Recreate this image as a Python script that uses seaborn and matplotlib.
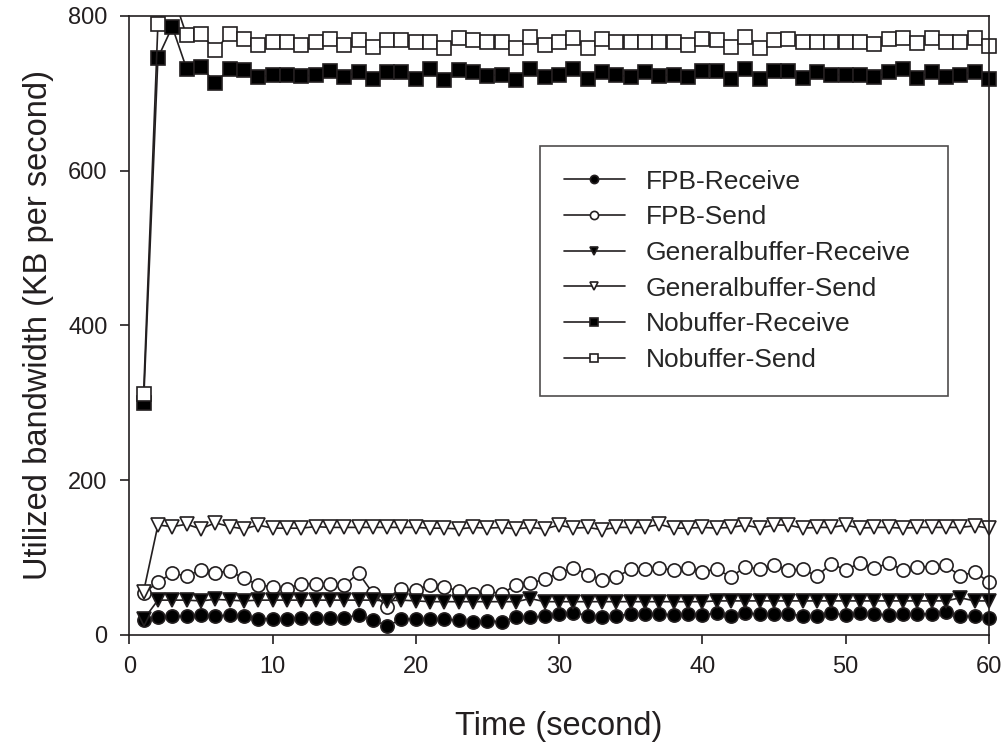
import numpy as np
import pandas as pd
import matplotlib
matplotlib.use("Agg")
import matplotlib.pyplot as plt
from matplotlib.transforms import Bbox, TransformedBbox
import seaborn as sns

sns.set_style("white")
plt.rcParams["font.family"] = ["Liberation Sans", "DejaVu Sans"]

time_s = list(range(1, 61))

fpb_receive = [19, 23, 24, 24, 26, 24, 26, 24, 21, 21, 21, 22, 22, 22, 22, 26, 19, 12, 20, 21,
               21, 20, 19, 17, 18, 17, 23, 23, 24, 27, 29, 25, 23, 25, 27, 27, 27, 26, 27, 26,
               28, 24, 28, 27, 27, 27, 25, 24, 28, 26, 28, 27, 26, 27, 27, 27, 30, 24, 24, 22]
fpb_send = [54, 68, 80, 76, 84, 80, 83, 73, 65, 62, 60, 66, 66, 66, 64, 80, 54, 36, 59, 58,
            65, 62, 57, 53, 57, 53, 65, 67, 72, 80, 87, 78, 71, 75, 85, 85, 86, 84, 86, 82,
            85, 75, 88, 85, 90, 84, 85, 76, 92, 84, 93, 86, 93, 84, 88, 88, 90, 76, 82, 68]
gen_receive = [20, 45, 45, 45, 44, 46, 45, 44, 45, 45, 45, 45, 45, 45, 45, 45, 45, 44, 45, 44,
               43, 43, 43, 43, 43, 43, 43, 47, 43, 43, 43, 43, 43, 43, 43, 43, 43, 43, 43, 43,
               44, 44, 44, 44, 44, 44, 44, 44, 44, 44, 44, 44, 44, 44, 44, 44, 44, 48, 44, 44]
gen_send = [56, 142, 140, 143, 137, 145, 140, 137, 142, 138, 138, 138, 140, 139, 139, 139, 139, 139, 139, 139,
            138, 138, 137, 139, 138, 139, 137, 139, 137, 142, 138, 139, 136, 139, 139, 139, 143, 138, 138, 139,
            138, 139, 142, 138, 142, 142, 138, 139, 139, 142, 138, 139, 139, 138, 139, 139, 139, 139, 141, 138]
nob_receive = [300, 746, 786, 732, 734, 714, 731, 730, 721, 724, 724, 722, 724, 729, 721, 728, 718, 728, 728, 718,
               731, 717, 730, 727, 723, 724, 717, 731, 721, 724, 731, 718, 728, 724, 721, 728, 723, 724, 721, 729,
               729, 719, 731, 718, 729, 729, 720, 728, 724, 724, 724, 721, 727, 731, 720, 728, 721, 724, 728, 718]
nob_send = [312, 790, 830, 775, 777, 756, 777, 770, 763, 766, 766, 762, 766, 770, 763, 769, 760, 769, 769, 766,
            766, 759, 771, 769, 766, 767, 759, 773, 763, 767, 772, 759, 770, 766, 766, 766, 766, 766, 763, 770,
            769, 760, 773, 759, 769, 770, 766, 766, 766, 766, 766, 764, 770, 771, 765, 771, 766, 766, 771, 761]

series = [
    ("FPB-Receive", fpb_receive, "o", "black"),
    ("FPB-Send", fpb_send, "o", "white"),
    ("Generalbuffer-Receive", gen_receive, "v", "black"),
    ("Generalbuffer-Send", gen_send, "v", "white"),
    ("Nobuffer-Receive", nob_receive, "s", "black"),
    ("Nobuffer-Send", nob_send, "s", "white"),
]

ink = "#231f20"

fig = plt.figure(figsize=(10.06, 7.47), dpi=100)
ax = fig.add_axes([0.1285, 0.150, 0.8545, 0.8286])

# clip only at the top, so end markers at x=60 are drawn whole
clip = TransformedBbox(Bbox([[-0.03, -0.05], [1.03, 1.0]]), ax.transAxes)

for name, vals, mk, face in series:
    df = pd.DataFrame({"t": time_s, "v": vals})
    sns.lineplot(data=df, x="t", y="v", ax=ax, color=ink, linewidth=1.2,
                 marker=mk, markersize=9.5, markerfacecolor=face,
                 markeredgecolor=ink, markeredgewidth=1.2, label=name)
    ax.lines[-1].set_clip_box(clip)

ax.set_xlim(0, 60)
ax.set_ylim(0, 800)
ax.set_xticks(np.arange(0, 61, 10))
ax.set_yticks(np.arange(0, 801, 200))
ax.tick_params(axis="both", direction="out", length=6.5, width=1.2, labelsize=17, pad=9,
               bottom=True, left=True, top=False, right=False, colors=ink)
for sp in ax.spines.values():
    sp.set_color(ink)
    sp.set_linewidth(1.2)
ax.set_xlabel("Time (second)", fontsize=23.5, color=ink)
ax.set_ylabel("Utilized bandwidth (KB per second)", fontsize=23.5, color=ink)
ax.xaxis.set_label_coords(0.5, -0.123)
ax.yaxis.set_label_coords(-0.087, 0.5)

leg = ax.legend(loc="upper left", bbox_to_anchor=(0.478, 0.79, 0.474, 0), mode="expand",
                fontsize=19, frameon=True, fancybox=False, edgecolor=ink, handlelength=2.3,
                labelspacing=0.44, borderpad=0.9, handletextpad=0.8,
                markerscale=0.62, borderaxespad=0)
leg.get_frame().set_linewidth(1.2)

fig.savefig("out.png", dpi=100)
